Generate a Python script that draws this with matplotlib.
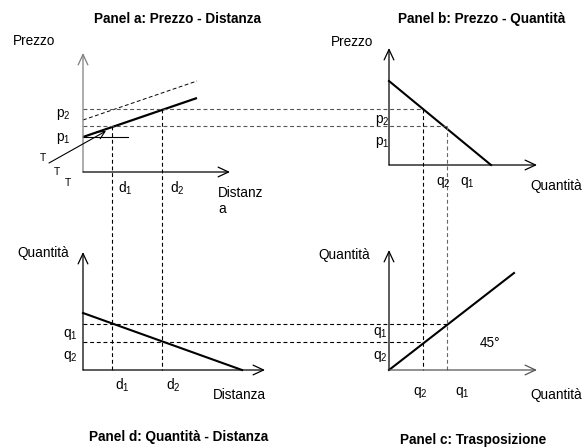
import matplotlib
matplotlib.use('Agg')
from matplotlib import pyplot as plt

plt.rcParams['font.family'] = ['Liberation Sans', 'DejaVu Sans']
plt.rcParams['mathtext.fontset'] = 'custom'
plt.rcParams['mathtext.rm'] = 'Liberation Sans'
plt.rcParams['mathtext.it'] = 'Liberation Sans'

# diagram coordinates (pixel-like units, y grows downwards)
ox_left, ox_right = 83, 389          # vertical axes of left / right panels
ay_a, ay_b, ay_bottom = 172, 165, 370  # horizontal axes

d_x = [112, 162]            # d1, d2
p_y = [126, 109]            # p1, p2 levels
q_x = [447, 423]            # q1, q2 in panels b / c
q_y = [324, 342]            # q1, q2 in panels d / c

price_x, price_y = [83, 197], [137, 98]       # panel a, bold
shift_x, shift_y = [83, 197], [120, 81]       # panel a, dashed
demand_x, demand_y = [389, 491], [81, 165]    # panel b
qd_x, qd_y = [83, 242], [313, 370]            # panel d
diag_x, diag_y = [389, 514], [370, 273]       # panel c

fig = plt.figure(figsize=(5.84, 4.48), dpi=100)
ax = fig.add_axes([0, 0, 1, 1])
ax.set_xlim(0, 584)
ax.set_ylim(448, 0)
ax.axis('off')

def axis_arrow(x0, y0, x1, y1, color='black'):
    ax.annotate('', xy=(x1, y1), xytext=(x0, y0),
                arrowprops=dict(arrowstyle='->,head_length=0.75,head_width=0.35',
                                color=color, lw=0.9, shrinkA=0, shrinkB=0))

# axes
axis_arrow(ox_left, ay_a, ox_left, 53, color='#7f7f7f')
axis_arrow(ox_left, ay_a, 230, ay_a)
axis_arrow(ox_right, ay_b, ox_right, 48)
axis_arrow(ox_right, ay_b, 537, ay_b)
axis_arrow(ox_left, ay_bottom, ox_left, 252)
axis_arrow(ox_left, ay_bottom, 265, ay_bottom)
axis_arrow(ox_right, ay_bottom, ox_right, 250)
axis_arrow(ox_right, ay_bottom, 537, ay_bottom, color='#555555')

# curves
ax.plot(price_x, price_y, color='black', lw=1.6, solid_capstyle='butt')
ax.plot(shift_x, shift_y, color='black', lw=0.7, ls=(0, (4, 2.5)))
ax.plot(demand_x, demand_y, color='black', lw=1.5)
ax.plot(qd_x, qd_y, color='black', lw=1.5)
ax.plot(diag_x, diag_y, color='black', lw=1.5)

# thin horizontal segment and arrow in panel a
ax.plot([ox_left, 128], [137, 137], color='black', lw=0.8)
ax.annotate('', xy=(106, 131), xytext=(49, 163),
            arrowprops=dict(arrowstyle='->,head_length=0.55,head_width=0.28',
                            color='black', lw=0.8, shrinkA=0, shrinkB=0))

dash = (0, (3.5, 2.5))
# horizontal dashes panel a -> b
ax.plot([ox_left, q_x[1]], [p_y[1], p_y[1]], color='#555555', lw=0.8, ls=dash)
ax.plot([ox_left, q_x[0]], [p_y[0], p_y[0]], color='#555555', lw=0.8, ls=dash)
# horizontal dashes panel d -> c
ax.plot([ox_left, q_x[0]], [q_y[0], q_y[0]], color='black', lw=0.8, ls=dash)
ax.plot([ox_left, q_x[1]], [q_y[1], q_y[1]], color='black', lw=0.8, ls=dash)
# vertical dashes a -> d
ax.plot([d_x[0], d_x[0]], [p_y[0], ay_bottom], color='black', lw=0.8, ls=dash)
ax.plot([d_x[1], d_x[1]], [p_y[1], ay_bottom], color='black', lw=0.8, ls=dash)
# vertical dashes b -> c
ax.plot([q_x[1], q_x[1]], [p_y[1], ay_bottom], color='black', lw=0.8, ls=dash)
ax.plot([q_x[0], q_x[0]], [p_y[0], ay_bottom], color='#666666', lw=0.8, ls=dash)

fs = 9.8
kw = dict(fontsize=fs, va='center')
ttl = dict(fontsize=fs, fontweight='bold', ha='center', va='center')

def sub(letter, n):
    return letter + r'$_\mathregular{' + n + '}$'

# panel a
ax.text(178, 19, 'Panel a: Prezzo - Distanza', **ttl)
ax.text(13, 41, 'Prezzo', ha='left', **kw)
ax.text(63, 115, sub('p', '2'), ha='center', **kw)
ax.text(63, 138, sub('p', '1'), ha='center', **kw)
for tx, ty in [(43, 158), (57, 172), (68, 183)]:
    ax.text(tx, ty, 'T', fontsize=7.5, ha='center', va='center')
ax.text(125, 188, sub('d', '1'), ha='center', **kw)
ax.text(177, 188, sub('d', '2'), ha='center', **kw)
ax.text(218, 193, 'Distanz', ha='left', **kw)
ax.text(218, 209, 'a', ha='left', **kw)

# panel b
ax.text(482, 19, 'Panel b: Prezzo - Quantità', **ttl)
ax.text(352, 42, 'Prezzo', ha='center', **kw)
ax.text(382, 120, sub('p', '2'), ha='center', **kw)
ax.text(382, 142, sub('p', '1'), ha='center', **kw)
ax.text(443, 183, sub('q', '2'), ha='center', **kw)
ax.text(467, 183, sub('q', '1'), ha='center', **kw)
ax.text(530, 186, 'Quantità', ha='left', **kw)

# panel d
ax.text(17, 253, 'Quantità', ha='left', **kw)
ax.text(70, 335, sub('q', '1'), ha='center', **kw)
ax.text(70, 357, sub('q', '2'), ha='center', **kw)
ax.text(122, 385, sub('d', '1'), ha='center', **kw)
ax.text(173, 385, sub('d', '2'), ha='center', **kw)
ax.text(213, 395, 'Distanza', ha='left', **kw)
ax.text(179, 437, 'Panel d: Quantità - Distanza', **ttl)

# panel c
ax.text(318, 255, 'Quantità', ha='left', **kw)
ax.text(380, 333, sub('q', '1'), ha='center', **kw)
ax.text(380, 357, sub('q', '2'), ha='center', **kw)
ax.text(420, 392, sub('q', '2'), ha='center', **kw)
ax.text(462, 392, sub('q', '1'), ha='center', **kw)
ax.text(490, 343, '45°', ha='center', **kw)
ax.text(530, 395, 'Quantità', ha='left', **kw)
ax.text(473, 440, 'Panel c: Trasposizione', **ttl)

plt.savefig('out.png', dpi=100)
